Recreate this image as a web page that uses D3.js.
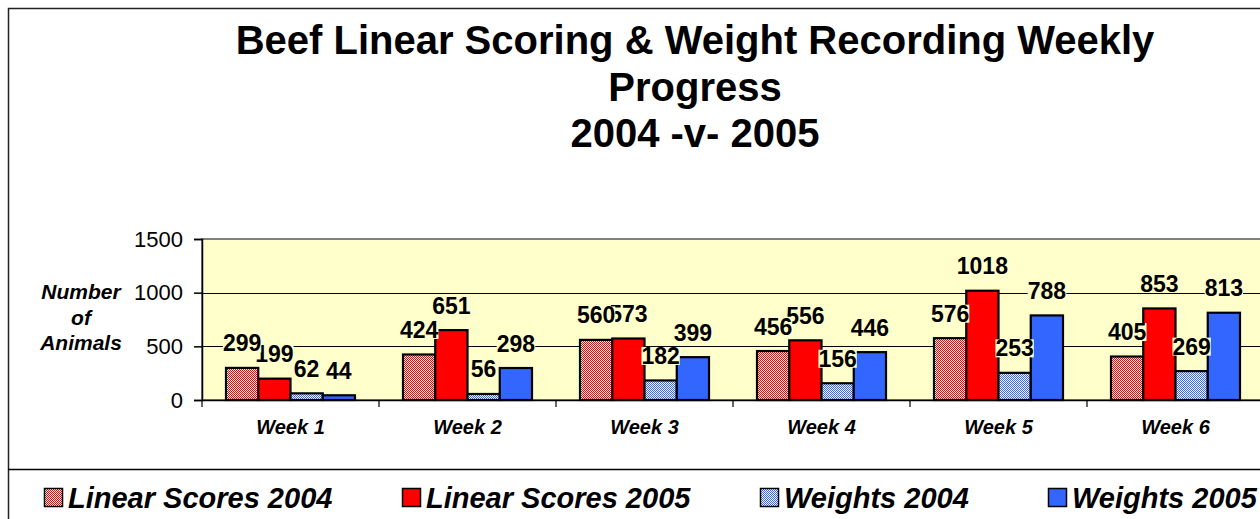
<!DOCTYPE html>
<html>
<head>
<meta charset="utf-8">
<script src="https://cdn.jsdelivr.net/npm/d3@7"></script>
<style>
  html, body { margin: 0; padding: 0; background: #fff; }
  svg { display: block; }
  text { font-family: "Liberation Sans", Arial, sans-serif; }
</style>
</head>
<body>
<svg id="chart" width="1260" height="519"></svg>
<script>
const titleLines = ["Beef Linear Scoring & Weight Recording Weekly", "Progress", "2004 -v- 2005"];
const weeks = ["Week 1", "Week 2", "Week 3", "Week 4", "Week 5", "Week 6"];
const seriesNames = ["Linear Scores 2004", "Linear Scores 2005", "Weights 2004", "Weights 2005"];
const linear2004 = [299, 424, 560, 456, 576, 405];
const linear2005 = [199, 651, 573, 556, 1018, 853];
const weights2004 = [62, 56, 182, 156, 253, 269];
const weights2005 = [44, 298, 399, 446, 788, 813];
const yTicks = [0, 500, 1000, 1500];
const yTitleLines = ["Number", "of", "Animals"];

const seriesValues = [linear2004, linear2005, weights2004, weights2005];
const seriesFill = ["url(#patRed)", "#FF0000", "url(#patBlue)", "#3366FF"];

const svg = d3.select("#chart");
const defs = svg.append("defs");
function makePattern(id, color) {
  const p = defs.append("pattern").attr("id", id).attr("patternUnits", "userSpaceOnUse")
    .attr("width", 2).attr("height", 2);
  p.append("rect").attr("width", 2).attr("height", 2).attr("fill", "#fff");
  p.append("rect").attr("x", 0).attr("y", 0).attr("width", 1).attr("height", 1).attr("fill", color);
  p.append("rect").attr("x", 1).attr("y", 1).attr("width", 1).attr("height", 1).attr("fill", color);
}
makePattern("patRed", "#FF0000");
makePattern("patBlue", "#3366FF");

// outer frame
svg.append("rect").attr("x", 8.5).attr("y", 8.5).attr("width", 1400).attr("height", 700)
  .attr("fill", "#fff").attr("stroke", "#222").attr("stroke-width", 1.5);

// title
svg.append("g").selectAll("text").data(titleLines).join("text")
  .attr("x", 695).attr("y", (d, i) => 54 + i * 46.5)
  .attr("text-anchor", "middle").attr("font-weight", "bold").attr("font-size", 40)
  .attr("fill", "#000").text(d => d);

const plotLeft = 202, plotTop = 239, plotBottom = 400, bandW = 177;
const x = d3.scaleBand().domain(weeks).range([plotLeft, plotLeft + bandW * weeks.length]).padding(0);
const xs = d3.scaleBand().domain(d3.range(seriesNames.length)).range([24, 153]).padding(0);
const y = d3.scaleLinear().domain([0, 1500]).range([plotBottom, plotTop]);

// plot background
svg.append("rect").attr("x", plotLeft).attr("y", plotTop)
  .attr("width", x.range()[1] - plotLeft).attr("height", plotBottom - plotTop)
  .attr("fill", "#FFFFCC").attr("stroke", "#808080").attr("stroke-width", 2);

// gridlines
svg.append("g").selectAll("line").data(yTicks.filter(t => t > 0 && t < 1500)).join("line")
  .attr("x1", plotLeft).attr("x2", x.range()[1])
  .attr("y1", d => Math.round(y(d)) + 0.5).attr("y2", d => Math.round(y(d)) + 0.5)
  .attr("stroke", "#000").attr("stroke-width", 1);

// y axis
const yAxis = svg.append("g").attr("transform", `translate(${plotLeft},0)`)
  .call(d3.axisLeft(y).tickValues(yTicks).tickSize(8).tickPadding(11).tickFormat(d3.format("d")));
yAxis.select(".domain").attr("stroke", "#000").attr("stroke-width", 1.5);
yAxis.selectAll(".tick line").attr("stroke", "#000").attr("stroke-width", 1.5);
yAxis.selectAll(".tick text").attr("font-size", 22).attr("fill", "#000");

// y title
svg.append("g").selectAll("text").data(yTitleLines).join("text")
  .attr("x", 81).attr("y", (d, i) => 299 + i * 25.5)
  .attr("text-anchor", "middle").attr("font-weight", "bold").attr("font-style", "italic")
  .attr("font-size", 21).attr("fill", "#000").text(d => d);

// bars
const flat = [];
seriesValues.forEach((vals, s) => vals.forEach((v, i) => flat.push({ s, week: weeks[i], v })));

svg.append("g").selectAll("rect").data(flat).join("rect")
  .attr("x", d => x(d.week) + xs(d.s))
  .attr("y", d => y(d.v))
  .attr("width", xs.bandwidth())
  .attr("height", d => plotBottom - y(d.v))
  .attr("fill", d => seriesFill[d.s])
  .attr("stroke", "#000").attr("stroke-width", 2.2);

// x axis
const xAxis = svg.append("g").attr("transform", `translate(0,${plotBottom})`)
  .call(d3.axisBottom(x).tickSize(0).tickPadding(20));
xAxis.select(".domain").attr("stroke", "#000").attr("stroke-width", 1.5);
xAxis.selectAll(".tick text").attr("font-size", 20).attr("font-weight", "bold")
  .attr("font-style", "italic").attr("fill", "#000");
// category separators
svg.append("g").selectAll("line").data(weeks.concat(["end"])).join("line")
  .attr("x1", (d, i) => plotLeft + i * x.step()).attr("x2", (d, i) => plotLeft + i * x.step())
  .attr("y1", plotBottom).attr("y2", plotBottom + 7)
  .attr("stroke", "#000").attr("stroke-width", 1.2);

// data labels (drawn last series first so earlier series sit on top)
const labelG = svg.append("g");
const ordered = flat.slice().sort((a, b) => b.s - a.s);
ordered.forEach(d => {
  const cx = x(d.week) + xs(d.s) + xs.bandwidth() / 2;
  const by = y(d.v) - 16.5;
  const g = labelG.append("g");
  const bg = g.append("rect").attr("fill", "#FFFFCC");
  const t = g.append("text").attr("x", cx).attr("y", by)
    .attr("text-anchor", "middle").attr("font-weight", "bold").attr("font-size", 23)
    .attr("fill", "#000").text(d.v);
  const bb = t.node().getBBox();
  bg.attr("x", bb.x).attr("y", by - 17).attr("width", bb.width).attr("height", 18);
});

// legend
svg.append("line").attr("x1", 8).attr("x2", 1260).attr("y1", 469.5).attr("y2", 469.5)
  .attr("stroke", "#000").attr("stroke-width", 1.5);
const legendX = [44, 402, 760, 1048];
const lg = svg.append("g").selectAll("g").data(seriesNames).join("g")
  .attr("transform", (d, i) => `translate(${legendX[i]},488)`);
lg.append("rect").attr("x", 0.5).attr("y", 0.5).attr("width", 18).attr("height", 18)
  .attr("fill", (d, i) => seriesFill[i]).attr("stroke", "#000").attr("stroke-width", 1.5);
lg.append("text").attr("x", 24).attr("y", 19.5)
  .attr("font-weight", "bold").attr("font-style", "italic").attr("font-size", 29)
  .attr("fill", "#000").text(d => d);
</script>
</body>
</html>
